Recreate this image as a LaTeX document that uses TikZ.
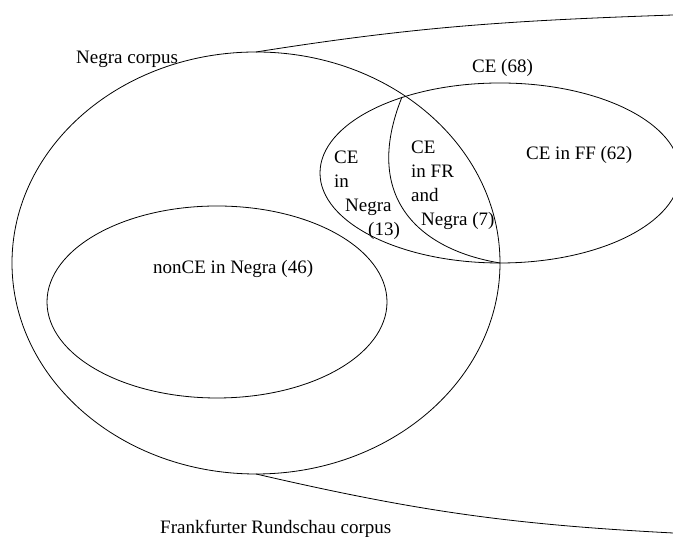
\documentclass[tikz,border=0pt]{standalone}
\usepackage{fontspec}
\setmainfont{Liberation Serif}
\usetikzlibrary{shapes.geometric}

\begin{document}
\begin{tikzpicture}[
    x=1pt, y=1pt,
    font=\fontsize{19}{23.8}\selectfont,
    region/.style={draw, ellipse, inner sep=0pt, outer sep=0pt, line width=0.8pt},
    label/.style={inner sep=0pt, anchor=base west},
    stack/.style={inner sep=0pt, align=left, anchor=north west},
    border/.style={line width=0.8pt}
  ]
    \useasboundingbox (0,0) rectangle (673,537);
    \clip (0,0) rectangle (673,537);

    \node[region, minimum width=488pt, minimum height=422pt] (negra) at (256,274) {};
    \node[region, minimum width=360pt, minimum height=180pt] (ce) at (500,364) {};
    \node[region, minimum width=340pt, minimum height=192pt] (nonce) at (217,235) {};

    \coordinate (lenstop) at (402,440);
    \coordinate (frtop) at (673,522);
    \coordinate (frbot) at (673,4);

    \node[label] (negralabel) at (76,473) {Negra corpus};
    \node[label] (celabel) at (472,464) {CE (68)};
    \node[label] (fflabel) at (526,377) {CE in FF (62)};
    \node[stack] (onlynegra) at (334,386) {CE\\in\\\hspace*{11pt}Negra\\\hspace*{34pt}(13)};
    \node[stack] (bothlabel) at (411,396) {CE\\in FR\\and\\\hspace*{10pt}Negra (7)};
    \node[label] (noncelabel) at (153,263) {nonCE in Negra (46)};
    \node[label] (frlabel) at (160,3) {Frankfurter Rundschau corpus};

    \draw[border] (negra.north) to[out=9, in=182] (frtop);
    \draw[border] (negra.south) to[out=-13, in=177] (frbot);
    \draw[border] (lenstop) .. controls (361,338) and (421,287) .. (ce.south);
  \end{tikzpicture}
\end{document}
